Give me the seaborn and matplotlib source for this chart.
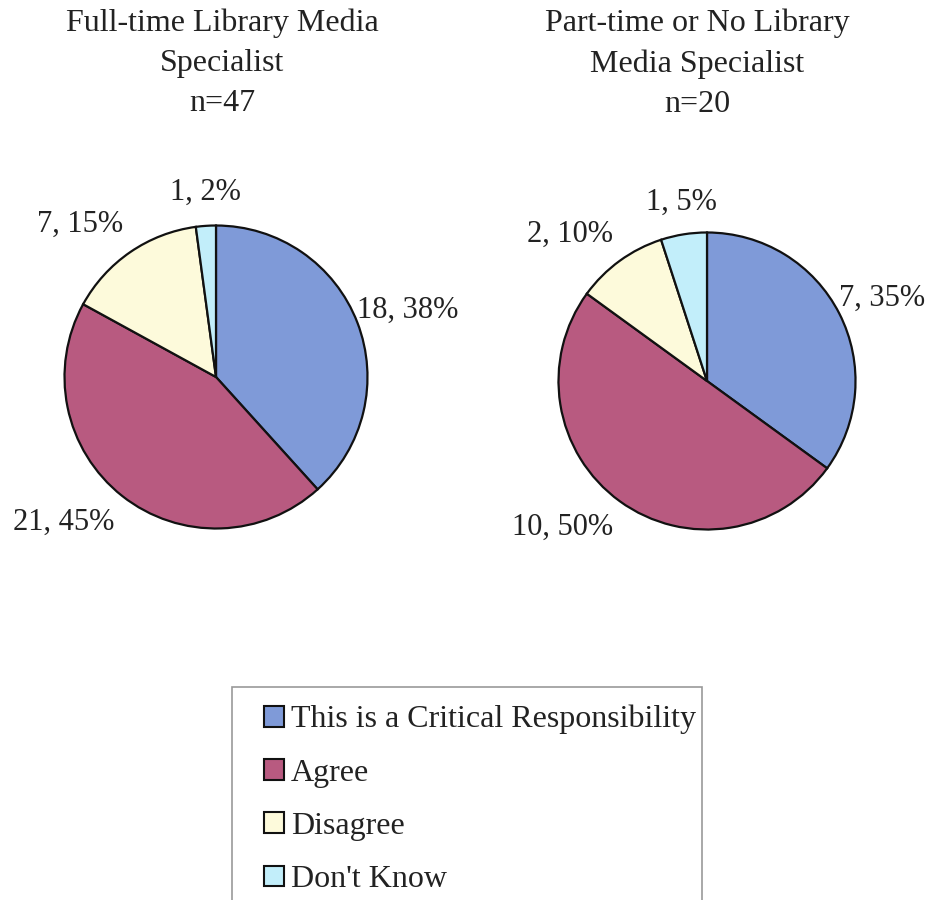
import matplotlib
matplotlib.use("Agg")
import matplotlib.pyplot as plt
import matplotlib.patches as mpatches
import seaborn as sns

# ============================
# DATA
# ============================
categories = ["This is a Critical Responsibility", "Agree", "Disagree", "Don't Know"]
full_time_counts = [18, 21, 7, 1]
part_time_counts = [7, 10, 2, 1]
full_time_title = "Full-time Library Media\nSpecialist\nn=47"
part_time_title = "Part-time or No Library\nMedia Specialist\nn=20"

colors = ["#7f9ad8", "#b85a80", "#fdfadb", "#c2eefa"]

# ============================
# STYLE
# ============================
sns.set_theme(style="white")
plt.rcParams["font.family"] = ["Liberation Serif", "DejaVu Serif"]
text_color = "#222222"
font_size = 23
label_size = 22


def make_labels(counts):
    total = sum(counts)
    return [f"{c}, {round(c / total * 100)}%" for c in counts]


fig = plt.figure(figsize=(9.32, 9.0), dpi=100)

# pie axes placed in pixel terms of the 932x900 figure
ax_left = fig.add_axes([63 / 932, 370 / 900, 306 / 932, 306 / 900])
ax_right = fig.add_axes([557 / 932, 369 / 900, 300 / 932, 300 / 900])

for ax, counts in [(ax_left, full_time_counts), (ax_right, part_time_counts)]:
    wedges, texts = ax.pie(
        counts,
        labels=make_labels(counts),
        colors=colors,
        startangle=90,
        counterclock=False,
        labeldistance=1.0,
        radius=1.0,
        wedgeprops=dict(edgecolor="#111111", linewidth=1.6),
        textprops=dict(fontsize=label_size, color=text_color),
    )
    # push labels out on an ellipse, like the spreadsheet layout
    for t in texts:
        x, y = t.get_position()
        fx = 1.0 if x > 0 else 1.08
        t.set_position((x * fx, y * 1.22))
        if abs(x) < 0.3:
            t.set_ha("center")
    ax.set_xlim(-1.01, 1.01)
    ax.set_ylim(-1.01, 1.01)
    ax.set_aspect("equal")
    ax.axis("off")

# titles
fig.text(222 / 932, 1 - 8 / 900, full_time_title, ha="center", va="top",
         fontsize=font_size, color=text_color, linespacing=1.52)
fig.text(697 / 932, 1 - 8 / 900, part_time_title, ha="center", va="top",
         fontsize=font_size, color=text_color, linespacing=1.52)

# legend box (runs past the bottom edge like the source)
frame = mpatches.Rectangle((232 / 932, -10 / 900), 470 / 932, (900 - 687 + 10) / 900,
                           transform=fig.transFigure, facecolor="white",
                           edgecolor="#999999", linewidth=1.2)
fig.add_artist(frame)

handles = [mpatches.Patch(facecolor=c, edgecolor="#111111", linewidth=1.5) for c in colors]
leg = fig.legend(
    handles, categories,
    loc="upper left",
    bbox_to_anchor=(264 / 932, 1 - 705 / 900),
    frameon=False,
    fontsize=font_size,
    labelspacing=0.76,
    handlelength=0.62,
    handleheight=0.62,
    handletextpad=0.22,
    borderpad=0,
    borderaxespad=0,
)
for t in leg.get_texts():
    t.set_color(text_color)

fig.savefig("out.png", dpi=100, facecolor="white")
